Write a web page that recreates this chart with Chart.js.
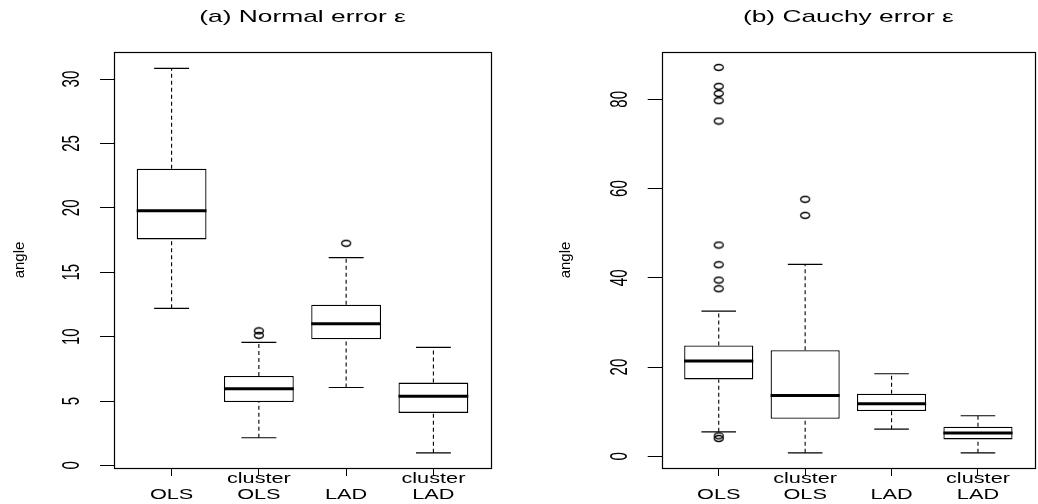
<!DOCTYPE html>
<html>
<head>
<meta charset="utf-8">
<script src="https://cdn.jsdelivr.net/npm/chart.js@4.4.0/dist/chart.umd.min.js"></script>
<style>
  html, body { margin: 0; padding: 0; background: #fff; overflow: hidden; }
  #wrap { position: relative; width: 1038px; height: 504px; overflow: hidden; }
  canvas { position: absolute; top: 0; }
  #panelA { left: 0; }
  #panelB { left: 519px; }
</style>
</head>
<body>
<div id="wrap">
  <canvas id="panelA" width="519" height="504"></canvas>
  <canvas id="panelB" width="521" height="504"></canvas>
</div>
<script>
// ---------------- DATA ----------------
const methods = ['OLS', ['cluster', 'OLS'], 'LAD', ['cluster', 'LAD']];

// (a) normal error
const normalLow = [12.2, 2.15, 6.05, 0.98];
const normalQ1 = [17.55, 4.93, 9.8, 4.08];
const normalMedian = [19.78, 5.96, 11.0, 5.37];
const normalQ3 = [23.03, 6.95, 12.47, 6.43];
const normalHigh = [30.83, 9.55, 16.14, 9.17];
const normalOutliers = [[], [10.1, 10.45], [17.25], []];
const normalTicks = [0, 5, 10, 15, 20, 25, 30];

// (b) cauchy error
const cauchyLow = [5.5, 0.8, 6.1, 0.8];
const cauchyQ1 = [17.25, 8.44, 10.16, 3.81];
const cauchyMedian = [21.36, 13.67, 11.8, 5.23];
const cauchyQ3 = [24.87, 23.8, 14.04, 6.65];
const cauchyHigh = [32.56, 43.0, 18.52, 9.11];
const cauchyOutliers = [[87.15, 82.9, 81.3, 79.7, 75.13, 47.35, 42.94, 39.5, 37.57, 4.6, 4.0], [57.6, 54.0], [], []];
const cauchyTicks = [0, 20, 40, 60, 80];

// ---------------- STYLE ----------------
const fontFamily = "'Liberation Sans', Arial, sans-serif";
const black = '#000000';
const stretch = 1.55;   // the R text is wide and flat

// open ellipse used for outliers
function ringPoint() {
    const c = document.createElement('canvas');
    c.width = 12;
    c.height = 9;
    const g = c.getContext('2d');
    g.strokeStyle = black;
    g.lineWidth = 1.3;
    g.beginPath();
    g.ellipse(6, 4.5, 4.5, 3, 0, 0, 2 * Math.PI);
    g.stroke();
    return c;
}
const ring = ringPoint();

// widen every text horizontally around its anchor (not the y title)
const wideText = {
    id: 'wideText',
    beforeInit(chart) {
        const ctx = chart.ctx;
        const fill = ctx.fillText;
        ctx.fillText = function (text, x, y, ...rest) {
            if (text === 'angle') return fill.call(this, text, x, y, ...rest);
            const m = this.getTransform();
            const p = m.transformPoint({x: x, y: y});
            this.save();
            this.setTransform(new DOMMatrix().translate(p.x, p.y).scale(stretch, 1).translate(-p.x, -p.y).multiply(m));
            fill.call(this, text, x, y, ...rest);
            this.restore();
        };
    }
};

// frame round the plot region
const plotBox = {
    id: 'plotBox',
    afterDatasetsDraw(chart) {
        const {ctx, chartArea: a} = chart;
        const l = Math.round(a.left) + 0.5, t = Math.round(a.top) + 0.5;
        const r = Math.round(a.right) + 0.5, b = Math.round(a.bottom) + 0.5;
        ctx.save();
        ctx.strokeStyle = black;
        ctx.lineWidth = 1.2;
        ctx.strokeRect(l, t, r - l, b - t);
        ctx.restore();
    }
};

function halfPx(c, w) {
    const s = c.chart.scales.x;
    return s.getPixelForValue(1 + w) - s.getPixelForValue(1);
}

// ---------------- BOX PLOT PANEL ----------------
function boxPanel(canvasId, title, st, yMin, yMax, yTicks, padLeft, padRight, axisWidth) {
    const xs = methods.map((m, i) => i + 1);

    let whiskers = [];
    xs.forEach((x, i) => {
        whiskers.push({x: x, y: st.low[i]}, {x: x, y: st.q1[i]}, {x: x, y: null},
                      {x: x, y: st.q3[i]}, {x: x, y: st.high[i]}, {x: x, y: null});
    });
    const caps = xs.flatMap((x, i) => [{x: x, y: st.low[i]}, {x: x, y: st.high[i]}]);
    const medians = xs.map((x, i) => ({x: x, y: st.median[i]}));
    const boxes = xs.map((x, i) => ({x: x, y: [st.q1[i], st.q3[i]]}));
    const outs = xs.flatMap((x, i) => st.outliers[i].map(v => ({x: x, y: v})));

    return new Chart(document.getElementById(canvasId), {
        type: 'bar',
        data: {
            datasets: [
                { type: 'line', data: whiskers, borderColor: black, borderWidth: 1.1,
                  borderDash: [4, 3], pointRadius: 0, spanGaps: false, order: 4 },
                { type: 'bar', data: boxes, backgroundColor: '#ffffff', borderColor: black,
                  borderWidth: 1.3, borderSkipped: false, barPercentage: 0.8,
                  categoryPercentage: 1, order: 3 },
                { type: 'scatter', data: medians, pointStyle: 'line',
                  pointRadius: c => halfPx(c, 0.4), pointBorderColor: black,
                  pointBorderWidth: 3, order: 2 },
                { type: 'scatter', data: caps, pointStyle: 'line',
                  pointRadius: c => halfPx(c, 0.2), pointBorderColor: black,
                  pointBorderWidth: 1.2, order: 1 },
                { type: 'scatter', data: outs, pointStyle: ring, pointRadius: 4, order: 0 }
            ]
        },
        options: {
            responsive: false,
            animation: false,
            events: [],
            layout: { padding: { left: padLeft, right: padRight, top: 0, bottom: 0 } },
            plugins: {
                legend: { display: false },
                tooltip: { enabled: false },
                title: {
                    display: true,
                    text: title,
                    fullSize: false,
                    color: black,
                    font: { family: fontFamily, size: 17, weight: 'normal' },
                    padding: { top: 7, bottom: 24.6 }
                }
            },
            scales: {
                x: {
                    type: 'linear',
                    min: 0.34,
                    max: 4.66,
                    offset: false,
                    afterBuildTicks: s => { s.ticks = xs.map(v => ({value: v})); },
                    afterFit: s => { s.height = 36; },
                    grid: { offset: false, drawOnChartArea: false, drawTicks: true,
                            tickLength: 8, color: black },
                    border: { display: false },
                    ticks: {
                        autoSkip: false, maxRotation: 0, crossAlign: 'far', padding: 3,
                        color: black,
                        font: { family: fontFamily, size: 14, lineHeight: 1.18 },
                        callback: v => methods[v - 1]
                    }
                },
                y: {
                    min: yMin,
                    max: yMax,
                    afterBuildTicks: s => { s.ticks = yTicks.map(v => ({value: v})); },
                    afterFit: s => { s.width = axisWidth; },
                    grid: { drawOnChartArea: false, tickLength: 14, color: black },
                    border: { display: false },
                    ticks: {
                        minRotation: 90, maxRotation: 90, crossAlign: 'center', padding: 18.7,
                        color: black,
                        font: { family: fontFamily, size: 15 }
                    },
                    title: {
                        display: true, text: 'angle', color: black,
                        font: { family: fontFamily, size: 15 },
                        padding: { top: 11, bottom: 0 }
                    }
                }
            }
        },
        plugins: [wideText, plotBox]
    });
}

boxPanel('panelA', '(a) Normal error \u03b5',
    { low: normalLow, q1: normalQ1, median: normalMedian, q3: normalQ3, high: normalHigh, outliers: normalOutliers },
    -0.2, 32.1, normalTicks, 0, 28, 114);

boxPanel('panelB', '(b) Cauchy error \u03b5',
    { low: cauchyLow, q1: cauchyQ1, median: cauchyMedian, q3: cauchyQ3, high: cauchyHigh, outliers: cauchyOutliers },
    -2.6, 90.6, cauchyTicks, 26.7, 0, 116);
</script>
</body>
</html>
